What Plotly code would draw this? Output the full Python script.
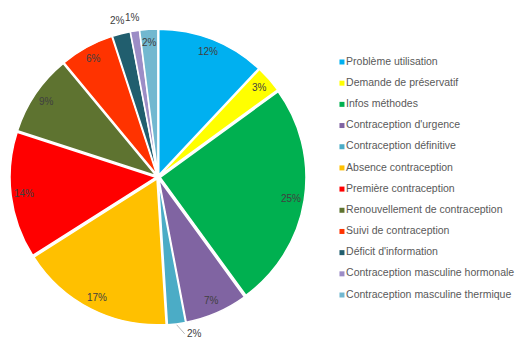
import math
import plotly.graph_objects as go

# Motifs de consultation (parts en %)
categories = [
    "Problème utilisation",
    "Demande de préservatif",
    "Infos méthodes",
    "Contraception d'urgence",
    "Contraception définitive",
    "Absence contraception",
    "Première contraception",
    "Renouvellement de contraception",
    "Suivi de contraception",
    "Déficit d'information",
    "Contraception masculine hormonale",
    "Contraception masculine thermique",
]
values = [12, 3, 25, 7, 2, 17, 14, 9, 6, 2, 1, 2]
colors = [
    "#00B0F0", "#FFFF00", "#00B050", "#8064A2", "#4BACC6", "#FFC000",
    "#FF0000", "#5E7330", "#FF3300", "#215E6E", "#9C8DC6", "#72B8D0",
]
# slices whose percentage is written outside the pie
outside_labels = {"Contraception définitive", "Déficit d'information",
                  "Contraception masculine hormonale"}

W, H = 517, 338
PULL = 0.015
dom_x = [10 / W, 306 / W]
dom_y = [13 / H, 309 / H]
text_color = "#404040"
font_family = "Liberation Sans, Arial, sans-serif"

fig = go.Figure()
fig.add_trace(go.Pie(
    labels=categories,
    values=values,
    sort=False,
    direction="clockwise",
    rotation=0,
    pull=PULL,
    marker=dict(colors=colors, line=dict(color="white", width=1.5)),
    textinfo="none",
    hoverinfo="label+percent",
    showlegend=False,
    domain=dict(x=dom_x, y=dom_y),
))

# percentage labels placed along each slice's mid-angle
cx_px = (dom_x[0] + dom_x[1]) / 2 * W
cy_px = (dom_y[0] + dom_y[1]) / 2 * H
r_px = (dom_x[1] - dom_x[0]) * W / (2 + 2 * PULL)
total = sum(values)
cum = 0
annotations = []
for name, v in zip(categories, values):
    pct = v / total * 100
    mid = (cum + v / 2) / total * 2 * math.pi
    cum += v
    label = f"{pct:.0f}%"
    if name == "Contraception définitive":
        # leader line from the slice edge to the label below it
        rr = r_px * (1 + PULL) + 1
        hx = cx_px + rr * math.sin(mid)
        hy = cy_px + rr * math.cos(mid)
        annotations.append(dict(
            x=hx / W, y=hy / H, xref="paper", yref="paper",
            text=label, showarrow=True, arrowhead=0, arrowwidth=0.8,
            arrowcolor="#A6A6A6", ax=8, ay=9, xanchor="left",
            font=dict(size=10, color=text_color, family=font_family),
        ))
        continue
    rr = r_px + 16 if name in outside_labels else r_px - 11
    x = cx_px + rr * math.sin(mid)
    y = cy_px + rr * math.cos(mid)
    annotations.append(dict(
        x=x / W, y=y / H, xref="paper", yref="paper",
        text=label, showarrow=False, xanchor="center", yanchor="middle",
        font=dict(size=10, color=text_color, family=font_family),
    ))

# legend drawn as a small marker column with category names
fig.add_trace(go.Scatter(
    x=[0] * len(categories),
    y=list(range(len(categories))),
    mode="markers+text",
    marker=dict(symbol="square", size=5, color=colors),
    text=categories,
    textposition="middle right",
    textfont=dict(size=10.5, color="#595959", family=font_family),
    hoverinfo="skip",
    showlegend=False,
    cliponaxis=False,
))

fig.update_layout(
    width=W, height=H,
    margin=dict(l=0, r=0, t=0, b=0),
    paper_bgcolor="white",
    plot_bgcolor="white",
    annotations=annotations,
    xaxis=dict(domain=[0.63, 1.0], range=[-0.085, 0.915], visible=False, fixedrange=True),
    yaxis=dict(domain=[(H - 305.6) / H, (H - 51.4) / H], range=[11.5, -0.5],
               visible=False, fixedrange=True),
)

fig.write_html("out.html")
